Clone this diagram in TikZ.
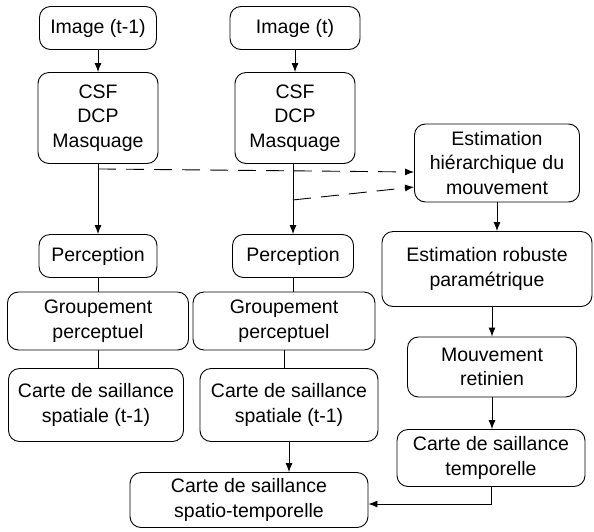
\documentclass[tikz,border=0pt]{standalone}
\usepackage{fontspec}
\setmainfont{Liberation Sans}
\usetikzlibrary{calc,positioning,arrows.meta}

\begin{document}
\begin{tikzpicture}[x=1pt,y=-1pt,>={Latex[length=9pt,width=7pt]},line width=0.9pt]

% \draw[step=20,gray,very thin] (0,0) grid (594,531);
\useasboundingbox (0,0) rectangle (594,531);

\tikzstyle{mybox} = [draw, rectangle, rounded corners=11pt, align=center, inner sep=2pt,
  font=\fontsize{19.5}{24.5}\selectfont]
\tikzstyle{dashedarrow} = [->, dash pattern=on 18pt off 10pt]

\node (img1) [mybox,minimum width=117,minimum height=43] at (98,28) {Image (t-1)};
\node (csf1) [mybox,minimum width=120,minimum height=91] at (98,118) {CSF\\DCP\\Masquage};
\node (img2) [mybox,minimum width=130,minimum height=43] at (295,28) {Image (t)};
\node (csf2) [mybox,minimum width=120,minimum height=91] at (295,118) {CSF\\DCP\\Masquage};

\node (perc1) [mybox,minimum width=118,minimum height=43] at (98,256) {Perception};
\node (perc2) [mybox,minimum width=121,minimum height=43] at (293,256) {Perception};
\node (grp1) [mybox,minimum width=181,minimum height=58] at (98,321) {Groupement\\perceptuel};
\node (grp2) [mybox,minimum width=182,minimum height=58] at (284,321) {Groupement\\perceptuel};
\node (sal1) [mybox,minimum width=175,minimum height=73] at (96,405) {Carte de saillance\\spatiale (t-1)};
\node (sal2) [mybox,minimum width=178,minimum height=73] at (289,405) {Carte de saillance\\spatiale (t-1)};

\node (est) [mybox,minimum width=165,minimum height=78] at (497,163) {Estimation\\hiérarchique du\\mouvement};
\node (rob) [mybox,minimum width=210,minimum height=75] at (487,269) {Estimation robuste\\paramétrique};
\node (mouv) [mybox,minimum width=169,minimum height=60] at (492,367) {Mouvement\\retinien};
\node (temp) [mybox,minimum width=188,minimum height=57] at (491,458) {Carte de saillance\\temporelle};
\node (st) [mybox,minimum width=238,minimum height=55] at (249,500) {Carte de saillance\\spatio-temporelle};

% left and middle columns
\draw[->] (img1.south) -- (img1.south |- csf1.north);
\draw[->] (img2.south) -- (img2.south |- csf2.north);
\draw[->] (csf1.south) -- (csf1.south |- perc1.north);
\draw[->] (perc2 |- csf2.south) -- (perc2.north);
\draw (perc1.south) -- (perc1.south |- grp1.north);
\draw (grp1.south) -- (grp1.south |- sal1.north);
\draw (perc2.south) -- (perc2.south |- grp2.north);
\draw (grp2.south) -- (grp2.south |- sal2.north);
\draw[->] (sal2.south) -- (sal2.south |- st.north);

% towards the motion estimation
\coordinate (d1) at ($(csf1.south)+(0,5)$);
\coordinate (d2) at ($(perc2 |- csf2.south)+(0,36)$);
\draw[dashedarrow] (d1) -- ($(est.west)+(0,9)$);
\draw[dashedarrow] (d2) -- ($(est.west)+(0,24)$);

% right column
\draw[->] (est) -- (est |- rob.north);
\draw[->] (mouv |- rob.south) -- (mouv.north);
\draw[->] (mouv) -- (mouv |- temp.north);
\draw[->] (temp.south) |- ($(st.east)+(0,4)$);

\end{tikzpicture}
\end{document}
